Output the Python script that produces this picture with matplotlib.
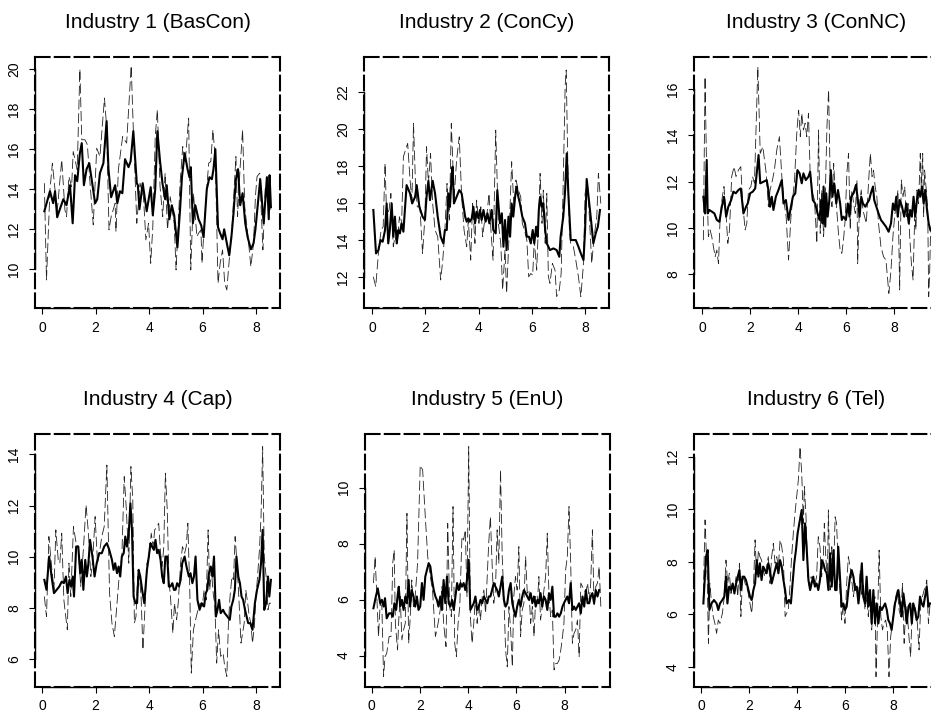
import matplotlib
matplotlib.use("Agg")
import matplotlib.pyplot as plt

plt.rcParams["font.family"] = ["Liberation Sans", "DejaVu Sans"]

titles = ["Industry 1 (BasCon)", "Industry 2 (ConCy)", "Industry 3 (ConNC)",
          "Industry 4 (Cap)", "Industry 5 (EnU)", "Industry 6 (Tel)"]

# Industry 1 (BasCon)
t1_smooth = [0.08, 0.29, 0.41, 0.48, 0.56, 0.66, 0.79, 0.91, 1.04, 1.14, 1.23, 1.31, 1.41, 1.48, 1.56, 1.66,
             1.76, 1.85, 1.98, 2.06, 2.16, 2.29, 2.41, 2.48, 2.58, 2.73, 2.81, 2.91, 3.00, 3.10, 3.23, 3.31,
             3.41, 3.54, 3.58, 3.64, 3.76, 3.91, 4.06, 4.14, 4.23, 4.31, 4.41, 4.50, 4.60, 4.66, 4.76, 4.85,
             4.94, 5.06, 5.16, 5.23, 5.33, 5.44, 5.51, 5.56, 5.64, 5.73, 5.85, 5.95, 6.04, 6.16, 6.26, 6.35,
             6.41, 6.48, 6.58, 6.66, 6.75, 6.81, 6.91, 7.00, 7.08, 7.16, 7.25, 7.33, 7.41, 7.50, 7.60, 7.69,
             7.81, 7.91, 7.98, 8.16, 8.29, 8.41, 8.48, 8.51, 8.56]
v1_smooth = [12.9, 13.9, 13.3, 13.9, 12.6, 13.0, 13.5, 13.2, 14.2, 12.3, 14.7, 14.4, 15.8, 16.3, 14.2, 15.0,
             15.3, 14.5, 13.3, 13.5, 14.8, 15.3, 17.4, 15.0, 13.6, 14.2, 13.3, 13.9, 13.8, 15.5, 15.1, 15.4,
             16.9, 14.3, 14.2, 13.0, 14.3, 12.9, 14.1, 12.7, 14.0, 16.9, 15.4, 14.3, 13.5, 14.2, 12.5, 13.2,
             12.7, 11.1, 13.0, 14.6, 15.8, 15.0, 14.6, 15.1, 12.3, 13.2, 12.5, 12.2, 11.6, 14.0, 14.6, 14.5,
             15.0, 16.0, 12.1, 11.8, 11.5, 12.0, 11.3, 10.7, 11.6, 12.8, 14.5, 15.0, 13.2, 13.8, 12.3, 11.6,
             11.0, 11.3, 12.0, 14.5, 12.3, 14.6, 12.5, 14.7, 13.1]
t1_raw = [0.08, 0.16, 0.29, 0.38, 0.48, 0.56, 0.73, 0.85, 0.91, 1.00, 1.10, 1.16, 1.31, 1.41, 1.48, 1.60,
          1.69, 1.79, 1.91, 2.04, 2.16, 2.33, 2.41, 2.50, 2.58, 2.73, 2.76, 2.85, 3.01, 3.16, 3.33, 3.41,
          3.54, 3.66, 3.79, 3.88, 3.98, 4.06, 4.14, 4.23, 4.31, 4.41, 4.51, 4.60, 4.69, 4.79, 4.94, 5.01,
          5.16, 5.26, 5.35, 5.48, 5.56, 5.66, 5.79, 5.85, 5.94, 5.98, 6.10, 6.23, 6.31, 6.39, 6.48, 6.58,
          6.66, 6.75, 6.83, 6.91, 7.00, 7.10, 7.25, 7.31, 7.41, 7.50, 7.58, 7.69, 7.81, 7.91, 7.98, 8.04,
          8.14, 8.26, 8.35, 8.48, 8.54]
v1_raw = [14.3, 9.47, 13.97, 15.3, 13.97, 12.88, 15.47, 12.97, 12.63, 14.63, 14.13, 15.88, 14.97, 20.0, 16.47, 16.47,
          16.22, 14.3, 12.22, 16.05, 15.63, 18.55, 17.13, 11.97, 12.63, 13.3, 11.88, 14.97, 16.63, 16.3, 20.17, 16.97,
          12.3, 14.3, 13.63, 11.47, 12.3, 10.3, 12.13, 16.63, 17.97, 14.13, 12.63, 14.8, 11.97, 13.63, 12.3, 9.97,
          14.3, 16.13, 15.3, 17.55, 9.97, 13.8, 11.63, 11.8, 11.97, 10.3, 12.97, 15.3, 15.38, 16.97, 15.47, 9.3,
          10.3, 10.97, 9.3, 8.97, 10.47, 11.97, 15.63, 12.63, 15.13, 16.97, 13.13, 11.8, 10.13, 11.3, 13.63, 14.63,
          14.8, 10.97, 14.13, 13.3, 12.97]

# Industry 2 (ConCy)
t2_smooth = [0.04, 0.14, 0.23, 0.31, 0.39, 0.48, 0.54, 0.60, 0.66, 0.73, 0.79, 0.85, 0.92, 0.98, 1.04, 1.10,
             1.17, 1.29, 1.42, 1.50, 1.61, 1.67, 1.77, 1.89, 1.98, 2.04, 2.11, 2.17, 2.27, 2.36, 2.46, 2.57,
             2.67, 2.73, 2.80, 2.86, 2.92, 2.98, 3.02, 3.07, 3.17, 3.27, 3.36, 3.49, 3.55, 3.61, 3.67, 3.74,
             3.80, 3.86, 3.92, 3.99, 4.05, 4.11, 4.18, 4.26, 4.33, 4.40, 4.49, 4.55, 4.64, 4.70, 4.80, 4.87,
             4.93, 4.99, 5.05, 5.12, 5.18, 5.24, 5.30, 5.37, 5.43, 5.49, 5.55, 5.64, 5.74, 5.81, 5.89, 5.96,
             6.03, 6.09, 6.16, 6.22, 6.26, 6.31, 6.37, 6.43, 6.50, 6.56, 6.62, 6.68, 6.81, 6.93, 7.03, 7.08,
             7.18, 7.25, 7.31, 7.37, 7.46, 7.56, 7.65, 7.75, 7.84, 7.94, 8.00, 8.06, 8.13, 8.21, 8.31, 8.40,
             8.48, 8.56]
v2_smooth = [15.63, 13.29, 13.47, 14.01, 13.92, 14.55, 15.98, 13.83, 14.55, 15.98, 14.19, 15.27, 13.83, 14.55, 14.37, 14.91,
             14.46, 16.97, 16.52, 15.98, 16.34, 16.97, 15.8, 15.27, 15.09, 16.34, 17.2, 16.16, 17.2, 16.52, 15.27, 14.19,
             13.83, 14.55, 14.55, 16.52, 15.8, 17.4, 17.96, 15.98, 16.34, 16.7, 16.52, 15.27, 15.0, 15.18, 15.0, 15.18,
             15.8, 14.91, 15.54, 15.18, 15.63, 15.09, 15.63, 15.0, 15.45, 14.91, 15.63, 14.55, 14.37, 16.7, 14.91, 15.45,
             13.65, 15.09, 13.47, 15.27, 14.19, 15.98, 15.27, 16.34, 16.88, 16.34, 15.98, 15.27, 14.91, 14.19, 14.19, 13.83,
             14.55, 13.83, 14.73, 14.19, 15.63, 16.34, 15.8, 15.98, 14.55, 13.83, 13.65, 13.47, 13.56, 13.47, 13.11, 14.19,
             15.27, 16.7, 18.68, 16.52, 14.01, 14.01, 14.01, 13.65, 13.29, 12.93, 14.55, 17.3, 16.34, 15.27, 13.83, 14.37,
             14.73, 15.63]
t2_raw = [0.04, 0.13, 0.23, 0.33, 0.41, 0.48, 0.54, 0.63, 0.70, 0.79, 0.85, 0.94, 1.02, 1.10, 1.17, 1.25,
          1.33, 1.42, 1.49, 1.55, 1.62, 1.69, 1.79, 1.89, 1.98, 2.04, 2.11, 2.19, 2.27, 2.36, 2.46, 2.57,
          2.65, 2.73, 2.81, 2.90, 2.97, 3.02, 3.07, 3.17, 3.27, 3.36, 3.45, 3.55, 3.61, 3.70, 3.77, 3.86,
          3.92, 4.01, 4.08, 4.15, 4.21, 4.30, 4.39, 4.46, 4.54, 4.64, 4.74, 4.83, 4.90, 4.99, 5.05, 5.14,
          5.24, 5.33, 5.40, 5.49, 5.58, 5.64, 5.72, 5.81, 5.88, 5.96, 6.03, 6.09, 6.18, 6.23, 6.31, 6.38,
          6.43, 6.50, 6.56, 6.62, 6.68, 6.77, 6.87, 6.93, 7.03, 7.10, 7.18, 7.25, 7.29, 7.35, 7.41, 7.46,
          7.56, 7.65, 7.75, 7.84, 7.94, 8.00, 8.09, 8.16, 8.25, 8.34, 8.44, 8.50, 8.59]
v2_raw = [12.03, 11.5, 13.29, 14.55, 14.73, 18.14, 15.27, 15.63, 16.52, 13.65, 14.19, 13.83, 15.27, 14.73, 18.5, 18.86,
          19.22, 17.24, 16.16, 20.29, 17.24, 15.8, 15.8, 13.29, 15.27, 19.04, 17.06, 18.68, 15.98, 14.55, 14.19, 11.86,
          12.93, 14.55, 17.06, 15.09, 20.29, 18.5, 16.16, 18.32, 19.57, 16.34, 14.55, 13.65, 15.09, 12.93, 15.98, 13.83,
          16.16, 14.91, 15.8, 14.19, 14.91, 15.27, 16.52, 14.55, 12.93, 19.93, 14.91, 13.83, 11.32, 13.47, 11.14, 14.19,
          18.23, 15.63, 17.24, 16.7, 16.34, 14.91, 14.55, 14.01, 12.03, 12.21, 12.12, 14.01, 12.39, 14.19, 17.6, 14.91,
          16.7, 13.83, 16.52, 12.03, 11.68, 12.75, 12.39, 10.96, 11.32, 12.21, 17.24, 22.27, 23.17, 18.14, 14.55, 13.83,
          13.65, 12.93, 12.03, 10.96, 12.75, 16.52, 17.06, 15.27, 12.75, 14.19, 15.27, 17.6, 15.98]

# Industry 3 (ConNC)
t3_smooth = [0.04, 0.11, 0.18, 0.22, 0.29, 0.39, 0.50, 0.60, 0.71, 0.81, 0.90, 0.99, 1.08, 1.20, 1.29, 1.39,
             1.50, 1.60, 1.71, 1.82, 1.89, 1.99, 2.10, 2.20, 2.34, 2.41, 2.55, 2.68, 2.75, 2.82, 2.89, 2.96,
             3.06, 3.17, 3.31, 3.38, 3.48, 3.59, 3.69, 3.77, 3.87, 3.96, 4.05, 4.14, 4.21, 4.31, 4.42, 4.49,
             4.60, 4.70, 4.80, 4.88, 4.95, 5.01, 5.05, 5.12, 5.16, 5.22, 5.29, 5.35, 5.42, 5.49, 5.58, 5.65,
             5.74, 5.81, 5.88, 5.98, 6.06, 6.13, 6.20, 6.30, 6.40, 6.48, 6.55, 6.62, 6.69, 6.79, 6.86, 6.95,
             7.02, 7.11, 7.16, 7.25, 7.34, 7.44, 7.55, 7.65, 7.76, 7.86, 7.94, 8.01, 8.08, 8.14, 8.22, 8.32,
             8.41, 8.50, 8.60, 8.66, 8.73, 8.80, 8.87, 8.94, 9.01, 9.08, 9.15, 9.22, 9.29, 9.36, 9.43, 9.50]
v3_smooth = [11.35, 10.63, 12.94, 10.63, 10.78, 10.71, 10.63, 10.35, 10.27, 10.92, 11.35, 10.49, 10.92, 11.21, 11.57, 11.5,
             11.64, 11.71, 10.63, 10.92, 11.06, 11.5, 11.57, 11.71, 13.15, 11.93, 12.0, 12.07, 11.64, 10.92, 11.35, 10.78,
             11.35, 11.64, 12.07, 11.06, 11.21, 10.35, 10.92, 11.35, 11.5, 12.5, 12.36, 11.93, 12.36, 12.07, 12.22, 12.43,
             11.21, 11.06, 10.63, 10.35, 11.21, 10.2, 11.79, 10.06, 11.5, 10.49, 11.21, 12.5, 11.35, 11.93, 11.06, 11.64,
             11.06, 10.35, 10.49, 10.35, 11.06, 10.49, 11.35, 11.5, 11.86, 11.21, 10.49, 11.35, 11.06, 10.92, 11.06, 11.21,
             11.5, 11.79, 11.21, 10.92, 10.63, 10.35, 10.2, 10.06, 9.84, 10.2, 11.06, 10.78, 11.35, 10.49, 11.21, 10.92,
             10.49, 11.06, 10.2, 10.78, 10.49, 11.35, 10.49, 11.21, 11.64, 11.35, 11.79, 11.06, 11.64, 10.78, 10.2, 9.92]
t3_raw = [0.04, 0.11, 0.18, 0.25, 0.32, 0.39, 0.46, 0.53, 0.60, 0.67, 0.74, 0.83, 0.90, 0.99, 1.06, 1.13,
          1.22, 1.32, 1.40, 1.50, 1.60, 1.68, 1.78, 1.85, 1.92, 2.02, 2.09, 2.17, 2.31, 2.41, 2.52, 2.57,
          2.66, 2.75, 2.82, 2.92, 3.00, 3.10, 3.21, 3.31, 3.41, 3.49, 3.59, 3.69, 3.77, 3.84, 3.94, 4.01,
          4.08, 4.14, 4.21, 4.28, 4.35, 4.42, 4.49, 4.59, 4.67, 4.77, 4.84, 4.91, 4.98, 5.05, 5.12, 5.19,
          5.26, 5.33, 5.40, 5.47, 5.54, 5.61, 5.67, 5.74, 5.81, 5.88, 5.95, 6.02, 6.09, 6.16, 6.23, 6.30,
          6.37, 6.44, 6.47, 6.55, 6.62, 6.69, 6.76, 6.83, 6.93, 7.00, 7.07, 7.13, 7.20, 7.27, 7.34, 7.44,
          7.55, 7.65, 7.72, 7.77, 7.86, 7.94, 8.01, 8.08, 8.15, 8.22, 8.29, 8.36, 8.43, 8.50, 8.57, 8.64,
          8.71, 8.78, 8.85, 8.90, 8.94, 9.01, 9.08, 9.12, 9.18, 9.22, 9.26, 9.33, 9.39, 9.43, 9.47, 9.51]
v3_raw = [9.48, 16.53, 12.22, 9.63, 9.92, 9.63, 9.2, 8.76, 9.05, 8.47, 10.49, 11.35, 11.79, 10.49, 9.34, 9.92,
          12.22, 12.65, 12.22, 12.5, 12.65, 11.06, 9.92, 10.2, 11.64, 11.79, 12.22, 11.93, 16.96, 13.22, 13.51, 13.08,
          12.36, 10.92, 11.64, 12.07, 12.5, 13.37, 13.94, 12.22, 11.06, 10.49, 8.62, 10.49, 11.35, 12.07, 14.23, 15.09,
          13.94, 14.95, 14.23, 14.52, 13.94, 14.95, 12.36, 11.5, 11.21, 9.34, 14.23, 9.77, 11.64, 9.63, 11.35, 14.37,
          15.96, 11.79, 10.92, 12.79, 11.5, 10.63, 9.77, 9.05, 8.91, 9.48, 10.35, 12.36, 13.22, 9.92, 11.64, 11.06,
          10.63, 12.07, 8.47, 11.06, 11.64, 10.78, 10.49, 10.2, 12.07, 13.22, 12.22, 12.5, 11.79, 11.35, 10.2, 9.2,
          8.76, 8.62, 7.76, 7.18, 8.19, 9.63, 10.49, 11.06, 11.64, 7.33, 12.07, 11.35, 11.79, 10.49, 11.06, 9.63,
          8.47, 7.76, 10.63, 9.92, 11.64, 11.06, 13.22, 11.79, 13.22, 10.49, 12.5, 11.64, 10.78, 7.04, 8.04, 9.92]

# Industry 4 (Cap)
t4_smooth = [0.08, 0.16, 0.26, 0.35, 0.44, 0.54, 0.64, 0.73, 0.81, 0.89, 0.95, 1.02, 1.08, 1.14, 1.19, 1.27,
             1.35, 1.42, 1.48, 1.54, 1.61, 1.67, 1.73, 1.79, 1.88, 1.96, 2.04, 2.13, 2.23, 2.32, 2.42, 2.51,
             2.61, 2.67, 2.73, 2.80, 2.86, 2.92, 2.98, 3.05, 3.11, 3.17, 3.24, 3.30, 3.36, 3.42, 3.49, 3.55,
             3.61, 3.67, 3.74, 3.82, 3.92, 3.99, 4.05, 4.11, 4.18, 4.24, 4.30, 4.36, 4.43, 4.49, 4.55, 4.61,
             4.68, 4.74, 4.80, 4.87, 4.93, 4.99, 5.05, 5.12, 5.18, 5.24, 5.33, 5.40, 5.49, 5.55, 5.62, 5.68,
             5.74, 5.81, 5.89, 5.97, 6.06, 6.12, 6.18, 6.24, 6.31, 6.37, 6.43, 6.50, 6.56, 6.62, 6.68, 6.77,
             6.83, 6.93, 7.02, 7.08, 7.15, 7.21, 7.27, 7.34, 7.40, 7.46, 7.52, 7.59, 7.65, 7.71, 7.79, 7.87,
             7.96, 8.04, 8.13, 8.19, 8.25, 8.31, 8.38, 8.45, 8.50, 8.56]
v4_smooth = [9.1, 8.71, 10.01, 9.23, 8.58, 8.71, 8.84, 9.03, 8.97, 9.23, 8.58, 9.1, 8.84, 9.23, 8.45, 10.4,
             10.4, 9.36, 9.88, 8.71, 9.88, 9.23, 9.75, 10.66, 10.01, 9.23, 9.75, 10.14, 10.14, 10.4, 10.53, 10.27,
             9.88, 9.49, 9.75, 9.36, 9.62, 9.23, 10.01, 10.14, 10.79, 10.4, 10.92, 12.09, 11.05, 8.45, 8.19, 8.19,
             9.49, 9.23, 8.71, 8.19, 9.49, 10.01, 10.53, 10.4, 10.27, 10.66, 10.14, 10.27, 9.88, 9.23, 8.97, 10.01,
             10.01, 8.84, 8.84, 8.97, 8.71, 8.71, 8.97, 8.84, 9.1, 9.75, 10.01, 9.62, 9.23, 9.36, 8.97, 9.23,
             10.01, 8.32, 7.93, 8.19, 8.06, 8.58, 8.71, 9.36, 9.62, 9.23, 10.01, 7.67, 7.93, 8.32, 7.8, 7.93,
             7.8, 7.67, 7.54, 8.06, 8.32, 8.71, 10.01, 9.23, 8.97, 8.45, 8.32, 7.93, 7.67, 7.41, 7.41, 7.15,
             8.19, 8.71, 9.1, 9.75, 11.05, 7.93, 8.19, 9.23, 8.45, 9.1]
t4_raw = [0.08, 0.16, 0.25, 0.35, 0.44, 0.51, 0.60, 0.66, 0.73, 0.81, 0.88, 0.94, 1.00, 1.07, 1.17, 1.27,
          1.35, 1.44, 1.54, 1.64, 1.73, 1.82, 1.89, 1.98, 2.07, 2.14, 2.23, 2.32, 2.42, 2.52, 2.61, 2.70,
          2.80, 2.88, 2.98, 3.07, 3.15, 3.24, 3.32, 3.39, 3.45, 3.51, 3.57, 3.64, 3.70, 3.77, 3.86, 3.92,
          4.01, 4.08, 4.15, 4.21, 4.30, 4.36, 4.43, 4.49, 4.55, 4.61, 4.68, 4.74, 4.80, 4.89, 4.95, 5.03,
          5.09, 5.18, 5.25, 5.33, 5.39, 5.45, 5.52, 5.58, 5.66, 5.74, 5.83, 5.91, 5.99, 6.06, 6.14, 6.21,
          6.27, 6.33, 6.41, 6.46, 6.53, 6.60, 6.68, 6.77, 6.83, 6.91, 6.97, 7.03, 7.10, 7.16, 7.22, 7.29,
          7.37, 7.44, 7.50, 7.56, 7.62, 7.69, 7.75, 7.81, 7.87, 7.94, 8.00, 8.06, 8.13, 8.19, 8.25, 8.31,
          8.38, 8.45, 8.50, 8.56]
v4_raw = [8.45, 7.67, 10.79, 9.62, 8.71, 11.05, 9.88, 9.75, 10.92, 8.32, 7.67, 7.15, 9.75, 8.45, 11.18, 10.53,
          10.4, 8.84, 10.27, 12.02, 10.92, 9.23, 9.88, 11.57, 9.75, 10.14, 10.79, 11.18, 13.58, 8.58, 7.41, 6.89,
          8.19, 9.23, 10.01, 13.13, 11.83, 9.75, 13.52, 12.22, 7.41, 7.67, 9.23, 9.23, 8.45, 6.37, 8.32, 9.75,
          10.01, 10.92, 10.4, 11.05, 11.18, 11.31, 10.14, 9.62, 10.4, 13.26, 11.83, 9.1, 8.45, 7.02, 8.19, 7.54,
          8.19, 9.75, 10.4, 10.14, 10.4, 11.31, 8.84, 5.46, 7.15, 7.54, 7.93, 8.19, 8.06, 8.71, 8.32, 11.05,
          8.71, 9.49, 8.45, 8.19, 5.85, 7.15, 6.11, 6.24, 5.72, 5.33, 7.41, 8.45, 9.23, 9.1, 10.79, 9.75,
          8.19, 6.63, 7.02, 7.41, 8.71, 8.19, 7.67, 7.41, 6.63, 7.28, 8.45, 9.23, 10.27, 11.57, 14.3, 10.01,
          9.23, 7.93, 8.19, 8.19]

# Industry 5 (EnU)
t5_smooth = [0.07, 0.17, 0.25, 0.35, 0.42, 0.49, 0.55, 0.62, 0.72, 0.80, 0.87, 0.94, 1.01, 1.07, 1.12, 1.18,
             1.25, 1.32, 1.39, 1.46, 1.53, 1.59, 1.66, 1.73, 1.80, 1.87, 1.94, 2.01, 2.08, 2.15, 2.22, 2.29,
             2.36, 2.43, 2.50, 2.57, 2.64, 2.70, 2.77, 2.84, 2.91, 2.98, 3.05, 3.12, 3.19, 3.26, 3.33, 3.40,
             3.47, 3.54, 3.61, 3.68, 3.74, 3.81, 3.88, 3.95, 4.02, 4.09, 4.16, 4.23, 4.30, 4.37, 4.44, 4.51,
             4.58, 4.65, 4.72, 4.79, 4.85, 4.92, 4.99, 5.06, 5.13, 5.20, 5.27, 5.34, 5.41, 5.48, 5.55, 5.62,
             5.69, 5.76, 5.83, 5.89, 5.96, 6.03, 6.10, 6.17, 6.24, 6.31, 6.38, 6.45, 6.52, 6.59, 6.66, 6.73,
             6.80, 6.87, 6.93, 7.00, 7.07, 7.14, 7.21, 7.28, 7.35, 7.42, 7.49, 7.56, 7.63, 7.70, 7.77, 7.84,
             7.91, 7.97, 8.04, 8.11, 8.18, 8.25, 8.32, 8.39, 8.46, 8.53, 8.60, 8.67, 8.74, 8.81, 8.88, 8.95,
             9.02, 9.08, 9.15, 9.22, 9.29, 9.36, 9.43]
v5_smooth = [5.69, 6.11, 6.4, 5.87, 5.99, 5.75, 6.05, 5.33, 5.51, 5.51, 5.39, 5.87, 5.63, 6.11, 6.46, 5.75,
             5.99, 5.63, 6.11, 5.87, 6.7, 5.75, 6.34, 6.11, 5.75, 6.11, 5.63, 5.75, 6.59, 5.99, 6.82, 7.06,
             7.3, 7.18, 6.7, 6.34, 6.11, 5.99, 5.75, 6.11, 5.63, 6.7, 5.87, 6.82, 5.87, 5.75, 5.99, 5.63,
             6.11, 6.59, 6.34, 6.59, 6.46, 6.59, 6.34, 6.7, 7.42, 5.63, 5.75, 5.87, 6.11, 5.63, 5.75, 5.99,
             5.87, 6.11, 5.99, 5.87, 6.11, 6.11, 6.34, 6.59, 6.46, 6.34, 6.11, 6.46, 6.82, 5.99, 5.75, 5.87,
             6.34, 6.59, 5.87, 5.63, 5.39, 5.75, 5.99, 5.75, 6.11, 6.34, 6.23, 6.11, 5.99, 6.23, 5.87, 6.11,
             5.75, 5.99, 5.87, 6.23, 5.75, 6.11, 5.99, 5.63, 6.23, 5.99, 6.46, 5.39, 5.39, 5.51, 5.39, 5.51,
             5.75, 5.87, 5.99, 6.11, 5.87, 6.59, 5.63, 5.75, 5.63, 5.75, 5.87, 5.51, 6.11, 5.75, 6.34, 5.87,
             5.87, 6.11, 6.23, 5.87, 6.34, 6.11, 6.34]
t5_raw = [0.07, 0.14, 0.21, 0.28, 0.35, 0.42, 0.49, 0.55, 0.62, 0.72, 0.80, 0.87, 0.93, 0.98, 1.07, 1.12,
          1.18, 1.25, 1.32, 1.39, 1.46, 1.53, 1.59, 1.66, 1.73, 1.80, 1.90, 2.01, 2.11, 2.22, 2.32, 2.43,
          2.52, 2.64, 2.75, 2.84, 2.91, 2.98, 3.08, 3.15, 3.23, 3.30, 3.37, 3.44, 3.51, 3.58, 3.65, 3.74,
          3.81, 3.88, 3.95, 4.02, 4.09, 4.16, 4.23, 4.30, 4.37, 4.44, 4.51, 4.58, 4.65, 4.72, 4.79, 4.85,
          4.92, 4.99, 5.06, 5.13, 5.20, 5.27, 5.34, 5.41, 5.48, 5.55, 5.62, 5.69, 5.76, 5.83, 5.89, 5.96,
          6.03, 6.10, 6.17, 6.24, 6.31, 6.38, 6.45, 6.52, 6.59, 6.66, 6.73, 6.80, 6.87, 6.93, 7.00, 7.07,
          7.14, 7.21, 7.28, 7.35, 7.42, 7.49, 7.56, 7.63, 7.70, 7.77, 7.84, 7.91, 7.97, 8.04, 8.11, 8.18,
          8.25, 8.32, 8.39, 8.46, 8.53, 8.60, 8.67, 8.74, 8.81, 8.88, 8.95, 9.02, 9.08, 9.15, 9.22, 9.29,
          9.36, 9.43, 9.50]
v5_raw = [6.59, 7.54, 6.11, 4.68, 5.87, 5.75, 3.25, 3.96, 4.08, 4.68, 4.68, 7.3, 7.77, 5.15, 4.2, 5.27,
          6.11, 4.56, 4.92, 5.15, 9.08, 4.44, 5.27, 6.7, 5.75, 6.11, 7.3, 10.79, 10.63, 8.96, 7.54, 6.82,
          6.34, 4.68, 5.15, 5.63, 6.46, 5.15, 4.32, 8.72, 5.75, 5.39, 9.32, 4.44, 3.96, 5.15, 5.75, 8.25,
          8.13, 8.49, 6.11, 11.46, 5.39, 4.44, 5.15, 6.11, 5.15, 5.87, 5.27, 6.11, 6.34, 5.51, 6.82, 8.01,
          8.96, 7.3, 5.87, 6.34, 8.49, 7.3, 10.63, 7.54, 6.11, 4.2, 3.6, 5.75, 4.92, 3.6, 6.11, 6.82,
          6.34, 7.89, 4.68, 5.63, 5.87, 7.54, 6.23, 6.34, 5.15, 5.75, 4.68, 6.11, 5.87, 6.82, 5.27, 5.75,
          6.34, 6.82, 8.37, 6.11, 5.39, 5.63, 3.49, 3.72, 3.72, 3.84, 4.2, 4.68, 5.15, 7.06, 7.54, 9.32,
          7.3, 4.44, 4.8, 4.92, 5.27, 3.96, 6.59, 6.46, 6.34, 6.23, 6.59, 5.99, 6.59, 8.49, 5.75, 6.46,
          6.59, 7.18, 5.75]

# Industry 6 (Tel)
t6_smooth = [0.10, 0.21, 0.28, 0.35, 0.44, 0.54, 0.65, 0.72, 0.79, 0.89, 0.97, 1.04, 1.10, 1.17, 1.25, 1.32,
             1.39, 1.46, 1.53, 1.60, 1.66, 1.73, 1.80, 1.87, 1.94, 2.04, 2.11, 2.18, 2.25, 2.32, 2.39, 2.45,
             2.52, 2.59, 2.66, 2.73, 2.80, 2.87, 2.94, 3.01, 3.08, 3.15, 3.22, 3.29, 3.36, 3.43, 3.50, 3.56,
             3.66, 3.74, 3.81, 3.88, 3.95, 4.02, 4.09, 4.19, 4.26, 4.33, 4.40, 4.47, 4.54, 4.60, 4.67, 4.74,
             4.81, 4.88, 4.95, 5.02, 5.09, 5.16, 5.23, 5.30, 5.37, 5.44, 5.51, 5.58, 5.64, 5.71, 5.78, 5.85,
             5.92, 5.99, 6.06, 6.13, 6.20, 6.27, 6.34, 6.41, 6.48, 6.55, 6.62, 6.69, 6.75, 6.82, 6.89, 6.96,
             7.03, 7.10, 7.17, 7.24, 7.31, 7.38, 7.45, 7.52, 7.59, 7.66, 7.73, 7.79, 7.86, 7.93, 8.00, 8.07,
             8.14, 8.21, 8.28, 8.35, 8.42, 8.49, 8.56, 8.63, 8.70, 8.77, 8.83, 8.90, 8.97, 9.04, 9.11, 9.18,
             9.25, 9.32, 9.39, 9.46, 9.53]
v6_smooth = [6.41, 8.19, 8.44, 6.16, 6.41, 6.54, 6.41, 6.16, 6.41, 6.54, 6.67, 7.43, 6.41, 7.05, 6.92, 7.17,
             6.79, 7.17, 7.43, 7.68, 6.92, 7.43, 7.43, 7.3, 7.05, 6.67, 6.54, 6.92, 7.17, 8.06, 7.43, 7.94,
             7.3, 7.81, 7.68, 7.56, 7.94, 7.68, 7.17, 7.43, 7.68, 7.94, 7.56, 8.06, 7.81, 7.3, 6.92, 6.41,
             6.54, 6.41, 7.17, 7.94, 8.44, 9.08, 9.46, 9.97, 8.06, 9.46, 8.44, 7.3, 6.92, 7.17, 7.43, 7.05,
             7.17, 6.92, 7.3, 8.06, 7.94, 7.68, 7.56, 6.92, 8.32, 7.05, 8.44, 6.92, 6.92, 8.57, 7.43, 6.29,
             6.41, 6.16, 6.29, 6.92, 7.43, 7.68, 7.43, 6.92, 7.05, 6.41, 7.05, 7.94, 6.67, 6.41, 7.43, 6.29,
             6.92, 5.65, 6.92, 5.65, 6.41, 5.65, 6.29, 6.16, 6.29, 6.41, 6.16, 5.78, 5.65, 5.4, 5.91, 6.41,
             6.67, 6.92, 6.41, 5.91, 6.79, 6.29, 5.65, 6.29, 6.41, 5.65, 6.41, 6.16, 5.78, 5.91, 6.67, 6.41,
             6.29, 6.67, 7.05, 6.29, 6.41]
t6_raw = [0.10, 0.17, 0.26, 0.31, 0.37, 0.44, 0.51, 0.58, 0.65, 0.72, 0.79, 0.89, 0.97, 1.04, 1.11, 1.18,
          1.25, 1.32, 1.39, 1.46, 1.53, 1.60, 1.66, 1.73, 1.80, 1.87, 1.94, 2.04, 2.11, 2.18, 2.25, 2.32,
          2.39, 2.45, 2.52, 2.59, 2.66, 2.73, 2.80, 2.87, 2.94, 3.01, 3.08, 3.15, 3.22, 3.29, 3.36, 3.43,
          3.50, 3.56, 3.63, 3.70, 3.77, 3.84, 3.91, 3.98, 4.05, 4.12, 4.19, 4.26, 4.30, 4.37, 4.44, 4.51,
          4.58, 4.65, 4.72, 4.81, 4.88, 4.95, 5.02, 5.09, 5.13, 5.19, 5.26, 5.30, 5.37, 5.44, 5.51, 5.58,
          5.64, 5.71, 5.78, 5.85, 5.92, 5.99, 6.06, 6.13, 6.20, 6.27, 6.34, 6.41, 6.48, 6.55, 6.62, 6.69,
          6.75, 6.82, 6.89, 6.96, 7.03, 7.10, 7.17, 7.24, 7.28, 7.34, 7.41, 7.48, 7.55, 7.61, 7.68, 7.75,
          7.82, 7.89, 7.96, 8.03, 8.10, 8.17, 8.24, 8.31, 8.38, 8.45, 8.52, 8.59, 8.65, 8.72, 8.79, 8.86,
          8.93, 9.00, 9.07, 9.14, 9.21, 9.28, 9.35, 9.39, 9.46, 9.53]
v6_raw = [6.79, 9.59, 7.43, 4.89, 7.17, 6.41, 5.91, 5.65, 5.27, 5.78, 5.65, 6.03, 6.67, 8.06, 7.17, 7.56,
          6.79, 7.17, 6.92, 7.43, 6.67, 7.94, 5.91, 7.43, 7.3, 7.05, 6.92, 6.41, 6.03, 6.92, 8.83, 7.43,
          8.44, 8.19, 8.06, 7.68, 7.43, 7.81, 8.19, 7.17, 8.19, 8.7, 7.94, 8.19, 7.81, 8.83, 8.57, 8.06,
          5.91, 6.03, 6.16, 7.05, 8.19, 9.08, 9.84, 10.48, 11.11, 12.38, 11.37, 9.46, 10.86, 9.71, 7.43, 7.05,
          7.43, 7.3, 7.05, 7.43, 8.95, 8.57, 7.43, 8.19, 9.46, 8.19, 7.3, 9.97, 6.92, 8.57, 7.43, 9.71,
          9.46, 7.81, 6.92, 5.78, 6.41, 5.65, 7.17, 8.19, 7.81, 7.3, 6.67, 7.17, 6.92, 6.67, 7.68, 6.67,
          7.17, 6.16, 6.67, 5.91, 6.67, 5.4, 6.54, 6.67, 3.62, 5.65, 8.44, 5.91, 5.4, 5.65, 5.78, 5.4,
          3.62, 5.14, 5.65, 6.29, 6.67, 6.92, 6.16, 5.91, 7.17, 4.89, 6.29, 5.91, 5.14, 4.38, 6.41, 6.41,
          6.16, 5.65, 4.64, 6.41, 6.67, 6.92, 7.05, 7.3, 5.65, 6.41]

smooth_t = [t1_smooth, t2_smooth, t3_smooth, t4_smooth, t5_smooth, t6_smooth]
smooth_v = [v1_smooth, v2_smooth, v3_smooth, v4_smooth, v5_smooth, v6_smooth]
raw_t = [t1_raw, t2_raw, t3_raw, t4_raw, t5_raw, t6_raw]
raw_v = [v1_raw, v2_raw, v3_raw, v4_raw, v5_raw, v6_raw]

xlims = [(-0.27, 8.9), (-0.30, 8.91), (-0.35, 9.86), (-0.27, 8.9), (-0.28, 9.88), (-0.29, 9.9)]
ylims = [(8.07, 20.6), (10.35, 23.87), (6.55, 17.38), (4.93, 14.78), (2.89, 11.9), (3.24, 12.85)]
xticks = [[0, 2, 4, 6, 8]] * 6
yticks = [[10, 12, 14, 16, 18, 20], [12, 14, 16, 18, 20, 22], [8, 10, 12, 14, 16],
          [6, 8, 10, 12, 14], [4, 6, 8, 10], [4, 6, 8, 10, 12]]

W, H = 931, 720
lefts = [35, 364.3, 694, 35, 365, 694]
tops = [57, 57, 57, 434.3, 434.3, 434.3]
bottoms = [308, 308, 308, 686.7, 686.7, 686.7]

fig = plt.figure(figsize=(W / 100, H / 100), dpi=100)

for i in range(6):
    ax = fig.add_axes([lefts[i] / W, 1 - bottoms[i] / H, 245 / W, (bottoms[i] - tops[i]) / H])
    ax.plot(raw_t[i], raw_v[i], color="#222222", lw=0.6, linestyle=(0, (12, 4.5)))
    ax.plot(smooth_t[i], smooth_v[i], color="black", lw=1.5)
    ax.set_xlim(*xlims[i])
    ax.set_ylim(*ylims[i])
    ax.set_xticks(xticks[i])
    ax.set_yticks(yticks[i])
    ax.set_yticklabels([str(v) for v in yticks[i]], rotation=90, va="center")
    ax.tick_params(direction="out", length=4, width=0.8, labelsize=10, colors="black")
    ax.tick_params(axis="x", pad=5)
    ax.tick_params(axis="y", pad=6)
    for s in ax.spines.values():
        s.set_linestyle((0, (7, 2.5)))
        s.set_linewidth(1.5)
    # solid axis lines over the tick range
    ax.plot([0, 0], [yticks[i][0], yticks[i][-1]], transform=ax.get_yaxis_transform(),
            color="black", lw=1, clip_on=False)
    ax.plot([xticks[i][0], xticks[i][-1]], [0, 0], transform=ax.get_xaxis_transform(),
            color="black", lw=1, clip_on=False)
    ax.text(0.5, 1 + 35 / (bottoms[i] - tops[i]), titles[i], transform=ax.transAxes,
            ha="center", va="center", fontsize=15)

fig.savefig("out.png", dpi=100)
